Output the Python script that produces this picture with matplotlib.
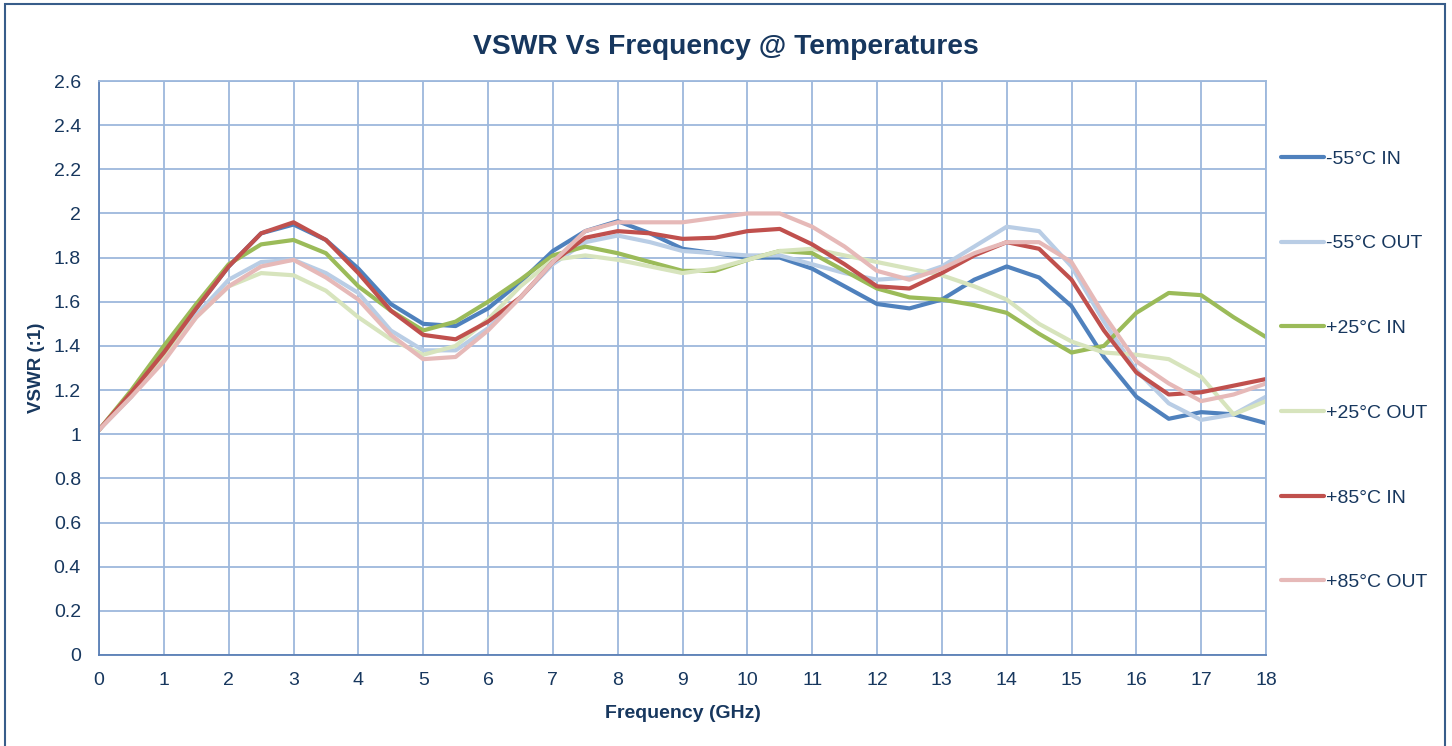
import matplotlib.pyplot as plt
import numpy as np
from matplotlib.patches import Rectangle

plt.rcParams['font.family'] = ['Liberation Sans', 'DejaVu Sans']

freq = np.arange(0, 18.01, 0.5)

m55_in = [1.02, 1.19, 1.38, 1.57, 1.76, 1.91, 1.95, 1.88, 1.75, 1.59, 1.50, 1.49, 1.57,
          1.69, 1.83, 1.92, 1.965, 1.91, 1.84, 1.82, 1.80, 1.80, 1.75, 1.67, 1.59,
          1.57, 1.61, 1.70, 1.76, 1.71, 1.58, 1.35, 1.17, 1.07, 1.10, 1.09, 1.05]
m55_out = [1.02, 1.17, 1.35, 1.54, 1.70, 1.78, 1.79, 1.73, 1.64, 1.47, 1.38, 1.38, 1.48,
           1.62, 1.77, 1.87, 1.90, 1.87, 1.83, 1.82, 1.81, 1.81, 1.77, 1.73, 1.70,
           1.71, 1.76, 1.85, 1.94, 1.92, 1.76, 1.51, 1.29, 1.14, 1.065, 1.09, 1.17]
p25_in = [1.02, 1.20, 1.40, 1.59, 1.77, 1.86, 1.88, 1.82, 1.67, 1.56, 1.47, 1.51, 1.60,
          1.70, 1.81, 1.85, 1.82, 1.78, 1.74, 1.74, 1.79, 1.83, 1.82, 1.74, 1.66,
          1.62, 1.61, 1.585, 1.55, 1.455, 1.37, 1.40, 1.55, 1.64, 1.63, 1.53, 1.44]
p25_out = [1.02, 1.18, 1.35, 1.53, 1.67, 1.73, 1.72, 1.65, 1.53, 1.43, 1.36, 1.40, 1.52,
           1.67, 1.79, 1.81, 1.79, 1.76, 1.73, 1.75, 1.79, 1.83, 1.84, 1.81, 1.78,
           1.75, 1.72, 1.67, 1.61, 1.50, 1.42, 1.37, 1.36, 1.34, 1.26, 1.09, 1.15]
p85_in = [1.02, 1.19, 1.37, 1.57, 1.76, 1.91, 1.96, 1.88, 1.73, 1.56, 1.45, 1.43, 1.51,
          1.62, 1.78, 1.89, 1.92, 1.91, 1.885, 1.89, 1.92, 1.93, 1.86, 1.77, 1.67,
          1.66, 1.73, 1.81, 1.87, 1.84, 1.70, 1.47, 1.28, 1.18, 1.19, 1.22, 1.25]
p85_out = [1.02, 1.17, 1.33, 1.53, 1.67, 1.76, 1.79, 1.71, 1.61, 1.45, 1.34, 1.35, 1.47,
           1.62, 1.78, 1.92, 1.96, 1.96, 1.96, 1.98, 2.00, 2.00, 1.94, 1.85, 1.74,
           1.70, 1.75, 1.82, 1.87, 1.87, 1.78, 1.54, 1.33, 1.23, 1.15, 1.18, 1.23]

series = [("-55°C IN", m55_in, "#4F81BD"),
          ("-55°C OUT", m55_out, "#B9CDE5"),
          ("+25°C IN", p25_in, "#9BBB59"),
          ("+25°C OUT", p25_out, "#D7E4BD"),
          ("+85°C IN", p85_in, "#C0504D"),
          ("+85°C OUT", p85_out, "#E6B9B8")]

text_col = "#17375E"
grid_col = "#9DB8DC"

fig = plt.figure(figsize=(14.52, 7.46), dpi=100)
ax = fig.add_axes([0.0682, 0.122, 0.8037, 0.7694])

for label, vals, col in series:
    ax.plot(freq, vals, color=col, lw=3, label=label,
            solid_capstyle='round', solid_joinstyle='round')

ax.set_xlim(0, 18)
ax.set_ylim(0, 2.6)
ax.set_xticks(np.arange(0, 19, 1))
ax.set_yticks(np.arange(0, 2.61, 0.2))
ax.set_yticklabels(["0", "0.2", "0.4", "0.6", "0.8", "1", "1.2", "1.4", "1.6",
                    "1.8", "2", "2.2", "2.4", "2.6"])
ax.grid(True, color=grid_col, lw=1.3)
ax.set_axisbelow(True)
for s in ax.spines.values():
    s.set_color(grid_col)
    s.set_linewidth(1.3)
ax.spines['left'].set_color("#5A7FB5")
ax.spines['bottom'].set_color("#5A7FB5")
ax.tick_params(colors=text_col, labelsize=14, length=0)
ax.tick_params(axis='y', pad=13)
ax.tick_params(axis='x', pad=12)

ax.set_xlabel("Frequency (GHz)", fontsize=14, fontweight='bold', color=text_col, labelpad=12)
ax.set_ylabel("VSWR (:1)", fontsize=13.5, fontweight='bold', color=text_col, labelpad=6)
fig.suptitle("VSWR Vs Frequency @ Temperatures", fontsize=20.3, fontweight='bold',
             color=text_col, y=0.955)

leg = ax.legend(loc='upper left', bbox_to_anchor=(0.998, 0.91), frameon=False,
                fontsize=14, labelspacing=3.45, handlelength=2.2, handletextpad=0.1)
for t in leg.get_texts():
    t.set_color(text_col)

fig.patches.append(Rectangle((5 / 1452, -0.02), 1440 / 1452, 1.02 - 4 / 746,
                             transform=fig.transFigure, fill=False,
                             edgecolor="#385D8A", lw=1.5))

plt.savefig("out.png", dpi=100)
